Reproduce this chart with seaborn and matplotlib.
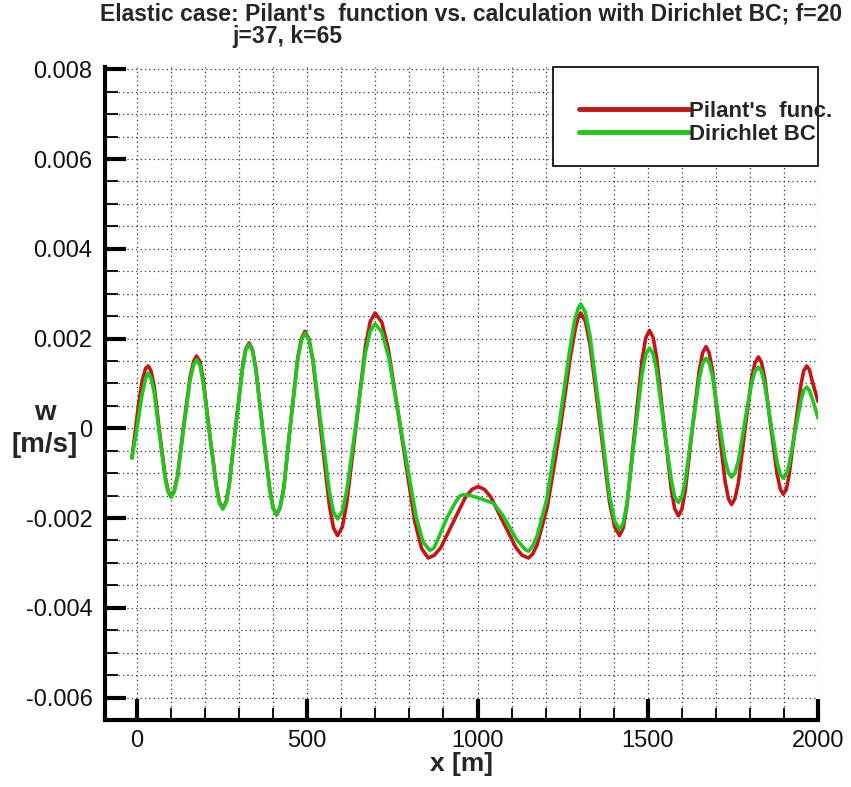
import numpy as np
import pandas as pd
import matplotlib
matplotlib.use("Agg")
import matplotlib.pyplot as plt
import seaborn as sns
from matplotlib.ticker import MultipleLocator, FixedLocator, FixedFormatter
from matplotlib.patches import Rectangle

# ---------------- data (w in units of 1e-3 m/s) ----------------
x_pilant = [-15, -5, 5, 15, 25, 33, 41, 50, 66, 83, 92, 100, 109, 119, 137, 156, 166, 175,
            185, 194, 213, 233, 242, 252, 262, 271, 290, 310, 319, 329, 339, 349, 369, 390,
            400, 410, 420, 431, 451, 472, 483, 493, 505, 517, 541, 565, 577, 589, 603, 616,
            644, 671, 685, 699, 719, 738, 777, 816, 836, 855, 873, 892, 928, 965, 984, 1002,
            1020, 1039, 1076, 1113, 1131, 1150, 1162, 1175, 1205, 1225, 1243, 1258, 1273,
            1288, 1296, 1303, 1317, 1331, 1360, 1388, 1403, 1417, 1428, 1439, 1461, 1483,
            1494, 1505, 1516, 1526, 1547, 1569, 1579, 1590, 1600, 1610, 1630, 1651, 1661,
            1671, 1680, 1690, 1708, 1727, 1737, 1746, 1756, 1766, 1785, 1805, 1815, 1825,
            1834, 1843, 1861, 1880, 1889, 1898, 1907, 1915, 1932, 1950, 1958, 1967, 1975,
            1983, 2000]
w_pilant = [-0.66, -0.05, 0.55, 1.05, 1.33, 1.39, 1.28, 0.96, -0.07, -1.09, -1.41, -1.52,
            -1.40, -1.06, 0.05, 1.15, 1.49, 1.61,
            1.48, 1.11, -0.09, -1.28, -1.65, -1.78, -1.64, -1.24, 0.06, 1.36, 1.76, 1.90,
            1.75, 1.34, -0.02, -1.37,
            -1.78, -1.93, -1.77, -1.33, 0.12, 1.56, 2.00, 2.16, 1.99, 1.49, -0.12, -1.72,
            -2.22, -2.39, -2.20, -1.66,
            0.09, 1.84, 2.38, 2.57, 2.36, 1.77, -0.16, -2.09, -2.68, -2.89, -2.83, -2.66,
            -2.10, -1.53, -1.36, -1.30,
            -1.36, -1.53, -2.10, -2.66, -2.83, -2.89, -2.80, -2.60, -1.75, -0.85, 0.00,
            0.80, 1.60,
            2.25, 2.48, 2.57, 2.38, 1.84, 0.09, -1.66, -2.20, -2.39, -2.22, -1.72, -0.11,
            1.51,
            2.01, 2.18, 2.02, 1.58, 0.12, -1.35, -1.79, -1.95, -1.81, -1.40, -0.07, 1.27,
            1.68,
            1.82, 1.69, 1.30, 0.06, -1.18, -1.57, -1.70, -1.57, -1.22, -0.06, 1.11, 1.46,
            1.59,
            1.47, 1.14, 0.06, -1.02, -1.35, -1.47, -1.36, -1.05, -0.04, 0.97, 1.28, 1.39,
            1.30,
            1.05, 0.60]

x_dirichlet = [-15, 0, 14, 25, 33, 41, 50, 66, 83, 92, 100, 109, 119, 137, 156, 166, 175,
               185, 194, 213, 233, 242, 252, 262, 271, 290, 310, 319, 329, 339, 349, 369,
               390, 400, 410, 420, 431, 451, 472, 483, 493, 505, 517, 541, 565, 577, 589,
               603, 616, 644, 671, 685, 699, 719, 739, 779, 820, 840, 860, 872, 885, 910,
               935, 949, 960, 980, 1002, 1047, 1076, 1115, 1140, 1150, 1162, 1175, 1203,
               1223, 1240, 1255, 1270, 1285, 1296, 1303, 1317, 1331, 1360, 1388, 1403,
               1417, 1428, 1439, 1461, 1483, 1494, 1505, 1516, 1526, 1547, 1569, 1579,
               1590, 1600, 1610, 1630, 1651, 1661, 1671, 1680, 1690, 1708, 1727, 1737,
               1746, 1756, 1766, 1785, 1805, 1815, 1825, 1834, 1843, 1861, 1880, 1889,
               1898, 1907, 1915, 1932, 1950, 1958, 1967, 1975, 1983, 1992, 2000]
w_dirichlet = [-0.66, 0.00, 0.71, 1.10, 1.23, 1.12, 0.82, -0.15, -1.13, -1.43, -1.54, -1.42,
               -1.09, 0.00, 1.08, 1.41, 1.53,
               1.40, 1.04, -0.13, -1.31, -1.67, -1.80, -1.66, -1.26, 0.03, 1.33, 1.73, 1.87,
               1.73, 1.31, -0.03,
               -1.37, -1.79, -1.93, -1.78, -1.34, 0.10, 1.53, 1.97, 2.12, 1.96, 1.51, 0.05,
               -1.41, -1.86, -2.02,
               -1.85, -1.38, 0.15, 1.69, 2.16, 2.33, 2.14, 1.59, -0.19, -1.98, -2.53, -2.72,
               -2.67, -2.45, -2.00,
               -1.65, -1.50, -1.48, -1.50, -1.55, -1.67, -1.96, -2.48, -2.70, -2.74, -2.62,
               -2.40, -1.59,
               -0.63, 0.10, 0.90, 1.70, 2.40, 2.68, 2.77, 2.58, 2.03, 0.26, -1.52, -2.07,
               -2.26, -2.11, -1.67, -0.24, 1.20, 1.64, 1.79, 1.66, 1.29, 0.07, -1.15, -1.52,
               -1.65, -1.53, -1.18, -0.05, 1.09, 1.44, 1.56, 1.46, 1.17, 0.24, -0.70, -0.99,
               -1.09, -1.00, -0.73, 0.14, 1.00, 1.27, 1.36, 1.27, 1.00, 0.13, -0.75, -1.02,
               -1.11, -1.03, -0.81, -0.10, 0.62, 0.84, 0.92, 0.84, 0.66, 0.44, 0.23]

series_names = ["Pilant's  func.", "Dirichlet BC"]
xtick_values = [0, 500, 1000, 1500, 2000]
xtick_labels = ["0", "500", "1000", "1500", "2000"]
ytick_values = [-0.006, -0.004, -0.002, 0.0, 0.002, 0.004, 0.006, 0.008]
ytick_labels = ["-0.006", "-0.004", "-0.002", "0", "0.002", "0.004", "0.006", "0.008"]
title_line1 = "Elastic case: Pilant's  function vs. calculation with Dirichlet BC; f=20"
title_line2 = "j=37, k=65"
xlabel = "x [m]"
ylabel = "w\n[m/s]"

# ---------------- style ----------------
sns.set_style("white")
plt.rcParams["font.family"] = ["Liberation Sans", "DejaVu Sans"]

RED = "#c41616"
GREEN = "#1ec81e"
W, H = 851, 787

fig = plt.figure(figsize=(W / 100, H / 100), dpi=100)
ax = fig.add_axes([105 / W, 1 - 720 / H, (818 - 105) / W, (720 - 67) / H])

df = pd.concat([
    pd.DataFrame({"x": x_pilant, "w": np.array(w_pilant) * 1e-3, "series": series_names[0]}),
    pd.DataFrame({"x": x_dirichlet, "w": np.array(w_dirichlet) * 1e-3, "series": series_names[1]}),
], ignore_index=True)

sns.lineplot(data=df, x="x", y="w", hue="series", hue_order=series_names,
             palette=[RED, GREEN], sort=False, estimator=None, lw=2.6, ax=ax)
for ln in ax.get_lines():
    ln.set_solid_joinstyle("round")

ax.set_xlim(-94, 2000)
ax.set_ylim(-0.0065, 0.00805)

ax.xaxis.set_major_locator(FixedLocator(xtick_values))
ax.xaxis.set_major_formatter(FixedFormatter(xtick_labels))
ax.xaxis.set_minor_locator(MultipleLocator(100))
ax.yaxis.set_major_locator(FixedLocator(ytick_values))
ax.yaxis.set_major_formatter(FixedFormatter(ytick_labels))
ax.yaxis.set_minor_locator(MultipleLocator(0.0005))

ax.grid(which="both", linestyle=(0, (1, 2.5)), color="#333333", lw=0.9)
ax.set_axisbelow(True)

for s in ["top", "right"]:
    ax.spines[s].set_visible(False)
for s in ["left", "bottom"]:
    ax.spines[s].set_linewidth(3)
    ax.spines[s].set_color("black")

ax.tick_params(which="major", direction="in", length=15, width=3, color="black",
               labelsize=17, labelcolor="#111111")
ax.tick_params(which="minor", direction="in", length=9, width=1.3, color="black")
ax.tick_params(axis="y", which="major", pad=9)
ax.tick_params(axis="x", which="major", pad=7)
ax.tick_params(left=True, bottom=True, right=False, top=False, which="both")

ax.set_xlabel(xlabel, fontsize=19, fontweight="bold", labelpad=0)
ax.set_ylabel(ylabel, fontsize=20, fontweight="bold", rotation=0, ha="center",
              va="center", linespacing=1.3)
ax.yaxis.set_label_coords(-0.085, 0.445)

# legend box and legend
ax.add_patch(Rectangle((553 / W, 1 - 166 / H), (818 - 553) / W, (166 - 67) / H,
                       transform=fig.transFigure, facecolor="white", edgecolor="black",
                       lw=1.2, zorder=4, clip_on=False))
handles, labels = ax.get_legend_handles_labels()
leg = ax.legend(handles, labels, loc="upper left", bbox_to_anchor=(579 / W, 1 - 101 / H),
                bbox_transform=fig.transFigure, frameon=False, handlelength=4.95,
                handletextpad=0.0, borderpad=0, borderaxespad=0, labelspacing=0.08,
                prop={"weight": "bold", "size": 16})
leg.set_zorder(5)
for ln in leg.get_lines():
    ln.set_linewidth(3.5)

# title
fig.text(471 / W, 1 - 21 / H, title_line1, ha="center", va="baseline", fontsize=16.5,
         fontweight="bold")
fig.text(232 / W, 1 - 43 / H, title_line2, ha="left", va="baseline", fontsize=16.5,
         fontweight="bold")

fig.savefig("out.png", dpi=100, facecolor="white")
